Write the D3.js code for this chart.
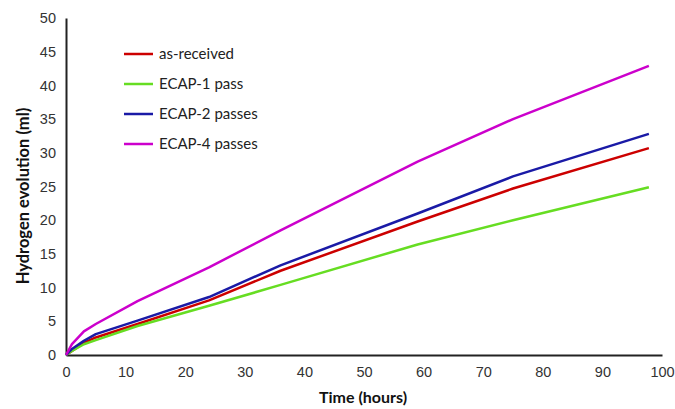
<!DOCTYPE html>
<html>
<head>
<meta charset="utf-8">
<script src="https://cdn.jsdelivr.net/npm/d3@7"></script>
<style>
  body { margin: 0; background: #fff; }
  svg { display: block; font-family: Lato, "Open Sans", sans-serif; }
</style>
</head>
<body>
<svg id="chart" width="675" height="409"></svg>
<script>
// Data
const hours = [0, 1, 3, 5, 12, 24, 36, 59, 75, 97.8];
const asReceived = [0, 0.6, 1.8, 2.6, 4.6, 8.1, 12.5, 19.8, 24.7, 30.7];
const ecap1 = [0, 0.6, 1.6, 2.2, 4.3, 7.3, 10.4, 16.4, 20.0, 24.9];
const ecap2 = [0, 0.9, 2.1, 3.1, 5.1, 8.6, 13.3, 21.0, 26.5, 32.8];
const ecap4 = [0, 1.6, 3.5, 4.6, 8.0, 13.0, 18.5, 28.7, 35.0, 42.9];

const seriesNames = ["as-received", "ECAP-1 pass", "ECAP-2 passes", "ECAP-4 passes"];
const seriesColors = ["#cc0000", "#66dd22", "#1a1aa6", "#cc00cc"];
const xTicks = d3.range(0, 101, 10);
const yTicks = d3.range(0, 51, 5);

const svg = d3.select("#chart");
const margin = { left: 66, right: 13, top: 18, bottom: 54 };
const width = 675, height = 409;

const x = d3.scaleLinear().domain([0, 100]).range([margin.left, width - margin.right]);
const y = d3.scaleLinear().domain([0, 50]).range([height - margin.bottom, margin.top]);

// axes
const xAxis = svg.append("g")
  .attr("transform", `translate(0,${y(0)})`)
  .call(d3.axisBottom(x).tickValues(xTicks).tickSize(0).tickPadding(12));
const yAxis = svg.append("g")
  .attr("transform", `translate(${x(0)},0)`)
  .call(d3.axisLeft(y).tickValues(yTicks).tickSize(0).tickPadding(10));

[xAxis, yAxis].forEach(a => {
  a.select(".domain").attr("stroke", "#222").attr("stroke-width", 2);
  a.selectAll("text").style("font-size", "14.5px").attr("fill", "#333");
});

// axis titles
svg.append("text")
  .attr("x", 363).attr("y", 403)
  .attr("text-anchor", "middle")
  .style("font-size", "16px").style("font-weight", "bold").attr("fill", "#111")
  .text("Time (hours)");

svg.append("text")
  .attr("transform", "translate(29,196) rotate(-90)")
  .attr("text-anchor", "middle")
  .style("font-size", "16.5px").style("font-weight", "bold").attr("fill", "#111")
  .text("Hydrogen evolution (ml)");

// lines
const allSeries = [asReceived, ecap1, ecap2, ecap4];
const line = d3.line()
  .x((d, i) => x(hours[i]))
  .y(d => y(d));

allSeries.forEach((vals, i) => {
  svg.append("path")
    .datum(vals)
    .attr("fill", "none")
    .attr("stroke", seriesColors[i])
    .attr("stroke-width", 2.5)
    .attr("stroke-linejoin", "round")
    .attr("d", line);
});

// legend
const legend = svg.append("g").attr("transform", "translate(124,54)");
seriesNames.forEach((name, i) => {
  const g = legend.append("g").attr("transform", `translate(0,${i * 30})`);
  g.append("line")
    .attr("x1", 0).attr("x2", 29)
    .attr("stroke", seriesColors[i]).attr("stroke-width", 2.5);
  g.append("text")
    .attr("x", 35).attr("dy", "0.35em")
    .style("font-size", "15px").attr("fill", "#222")
    .text(name);
});
</script>
</body>
</html>
